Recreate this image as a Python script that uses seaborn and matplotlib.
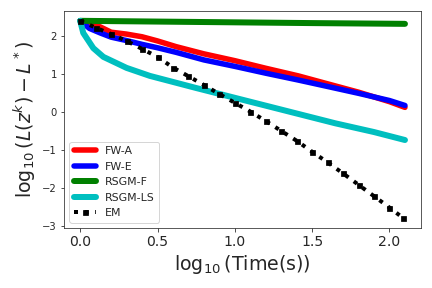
import numpy as np
import pandas as pd
import matplotlib
matplotlib.use("Agg")
import matplotlib.pyplot as plt
import seaborn as sns

# log10(time) and log10(gap)
t_fw = [0.0, 0.06, 0.13, 0.2, 0.3, 0.4, 0.5, 0.62, 0.8, 1.0, 1.2, 1.41, 1.6, 1.8, 2.0, 2.1]
fw_a = [2.40, 2.32, 2.24, 2.10, 2.05, 1.98, 1.87, 1.72, 1.53, 1.35, 1.15, 0.95, 0.74, 0.52, 0.27, 0.12]
fw_e = [2.40, 2.20, 2.08, 1.97, 1.88, 1.78, 1.69, 1.57, 1.37, 1.20, 1.02, 0.84, 0.67, 0.49, 0.30, 0.17]

t_rf = [0.0, 0.5, 1.0, 1.5, 2.1]
rsgm_f = [2.40, 2.38, 2.36, 2.34, 2.32]

t_rls = [0.0, 0.02, 0.085, 0.15, 0.3, 0.45, 0.75, 1.05, 1.35, 1.65, 1.9, 2.1]
rsgm_ls = [2.40, 2.08, 1.68, 1.45, 1.16, 0.95, 0.63, 0.32, 0.01, -0.30, -0.53, -0.74]

t_em = [0.0, 0.1, 0.2, 0.3, 0.4, 0.5, 0.6, 0.7, 0.8, 0.9, 1.0, 1.1,
        1.2, 1.3, 1.4, 1.5, 1.6, 1.7, 1.8, 1.9, 2.0, 2.09]
em = [2.40, 2.22, 2.05, 1.87, 1.66, 1.45, 1.17, 0.94, 0.71, 0.47, 0.24, 0.01,
      -0.24, -0.50, -0.76, -1.05, -1.33, -1.62, -1.92, -2.22, -2.52, -2.80]

sns.set_style("ticks")

fig, ax = plt.subplots(figsize=(6, 4), dpi=72)

sns.lineplot(x=t_fw, y=fw_a, color="red", lw=5.5, label="FW-A", ax=ax)
sns.lineplot(x=t_fw, y=fw_e, color="blue", lw=5.5, label="FW-E", ax=ax)
sns.lineplot(x=t_rf, y=rsgm_f, color="green", lw=6, label="RSGM-F", ax=ax)
sns.lineplot(x=t_rls, y=rsgm_ls, color="c", lw=6, label="RSGM-LS", ax=ax)
sns.lineplot(x=t_em, y=em, color="black", lw=4, linestyle=":", marker="s",
             markersize=5, markeredgecolor="black", label="EM", ax=ax)

for s in ax.spines.values():
    s.set_color("#333333")

ax.set_xlabel(r"$\log_{10}$(Time(s))", fontsize=19)
ax.set_ylabel(r"$\log_{10}(L(z^k)-L^*)$", fontsize=19)
ax.tick_params(axis="x", labelsize=14)
ax.tick_params(axis="y", labelsize=10)
ax.legend(loc="lower left", fontsize=11)

fig.subplots_adjust(left=0.148, right=0.975, bottom=0.208, top=0.962)
fig.savefig("out.png", dpi=72)
